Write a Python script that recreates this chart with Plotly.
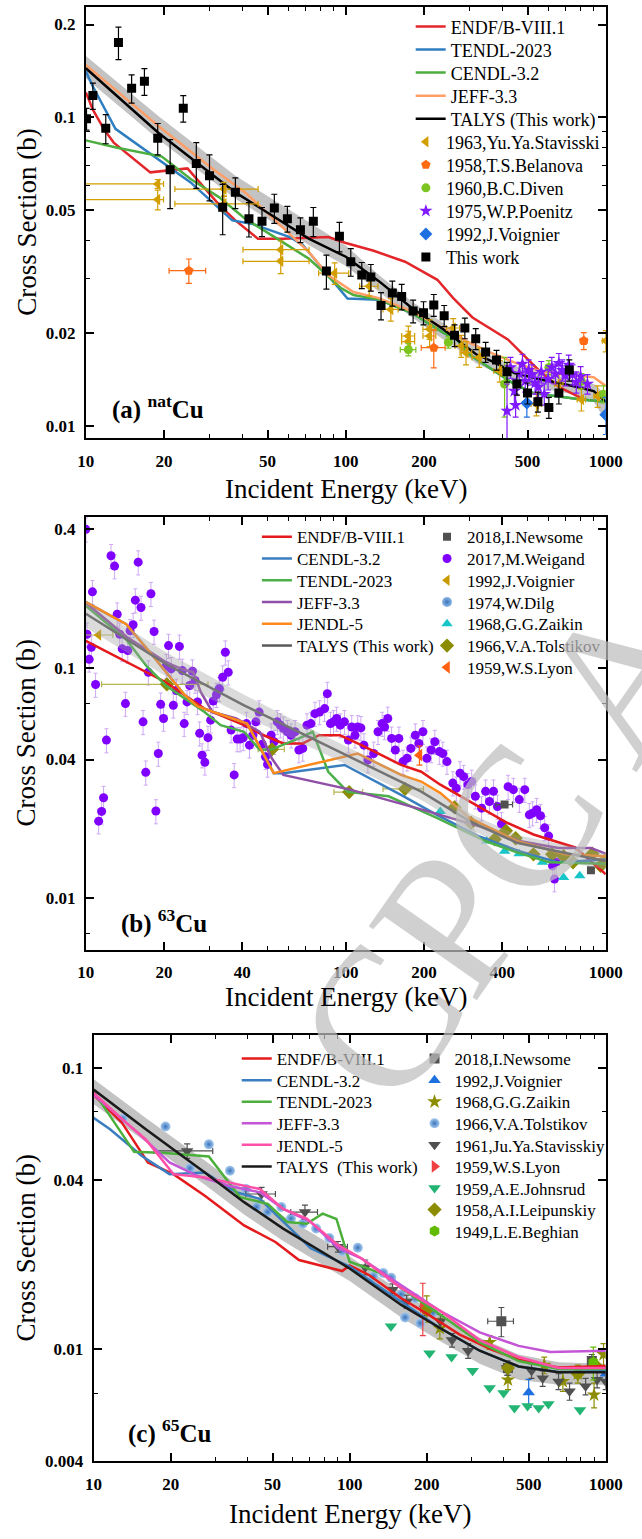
import plotly.graph_objects as go

FONT = "Liberation Serif"

# ===================== Panel (a) natCu =====================
a_endf_E = [10, 10.64, 11.75, 12.8, 17.7, 24.6, 32.7, 37.6, 45.9, 57.5, 85.6, 100, 128, 169, 225, 259, 307, 420, 556, 660, 795]
a_endf_S = [0.1206, 0.106, 0.0915, 0.0829, 0.0664, 0.0684, 0.0519, 0.0464, 0.0405, 0.0405, 0.0410, 0.0392, 0.0370, 0.0341, 0.0298, 0.0260, 0.0225, 0.0191, 0.0151, 0.0134, 0.0124]
a_tendl_E = [10, 10.64, 13.0, 17.5, 25.3, 36.6, 43.4, 60.9, 68.4, 83.3, 101.5, 134, 179, 237, 267, 298, 373, 444, 527, 660, 806, 1000]
a_tendl_S = [0.141, 0.126, 0.0919, 0.0769, 0.0616, 0.0464, 0.0453, 0.0410, 0.0386, 0.0316, 0.0259, 0.0257, 0.0233, 0.0201, 0.0191, 0.0171, 0.0151, 0.0137, 0.0128, 0.0125, 0.0122, 0.0120]
a_cendl_E = [10, 13.2, 19.6, 25.3, 32.6, 41.0, 54.4, 72, 95.9, 107, 134, 179, 237, 267, 298, 373, 444, 527, 660, 806, 1000]
a_cendl_S = [0.0843, 0.0798, 0.0747, 0.0632, 0.0551, 0.0470, 0.0405, 0.0349, 0.0280, 0.0266, 0.0257, 0.0233, 0.0201, 0.0191, 0.0171, 0.0151, 0.0137, 0.0128, 0.0125, 0.0122, 0.0120]
a_jeff_E = [10, 19.0, 30.9, 41.0, 54.4, 72, 85.7, 107, 134, 179, 237, 298, 373, 444, 556, 748, 898, 1000]
a_jeff_S = [0.148, 0.0938, 0.0680, 0.0572, 0.0458, 0.0367, 0.0308, 0.0272, 0.0260, 0.0236, 0.0208, 0.0187, 0.0171, 0.0161, 0.0151, 0.0146, 0.0144, 0.0135]
a_talys_E = [10, 19, 37.6, 72, 100, 134, 179, 237, 267, 317, 373, 444, 556, 748, 898, 1000]
a_talys_S = [0.1444, 0.0892, 0.0572, 0.0405, 0.0354, 0.0295, 0.0242, 0.0206, 0.0191, 0.0171, 0.0161, 0.0149, 0.0142, 0.0135, 0.0130, 0.0120]
a_band_hi = [0.158, 0.101, 0.0648, 0.0458, 0.0385, 0.0309, 0.0254, 0.0216, 0.0201, 0.0180, 0.0167, 0.0157, 0.0150, 0.0142, 0.0137, 0.0127]
a_band_lo = [0.134, 0.085, 0.0545, 0.0386, 0.0330, 0.0273, 0.0226, 0.0191, 0.0179, 0.0160, 0.0150, 0.0140, 0.0133, 0.0127, 0.0120, 0.0104]

a_this_E = [10.06, 10.64, 11.93, 13.35, 15.0, 16.8, 18.9, 21.1, 23.7, 26.6, 29.9, 33.6, 37.6, 42.4, 47.6, 53.1, 59.6, 66.9, 75.0, 84.2,
            94.5, 104.5, 115.2, 124.8, 136.6, 151, 164, 181.5, 199, 218, 239, 262, 287, 316, 345, 380, 417, 455, 500, 548, 604, 660, 724]
a_this_S = [0.0990, 0.1177, 0.0922, 0.175, 0.1243, 0.1309, 0.0856, 0.0677, 0.1071, 0.0709, 0.0647, 0.0512, 0.0572, 0.0470, 0.0461, 0.0509, 0.0470, 0.0433, 0.0461, 0.0318,
            0.0412, 0.0341, 0.0309, 0.0304, 0.0246, 0.0270, 0.0263, 0.0236, 0.0233, 0.0247, 0.0228, 0.0197, 0.0208, 0.0192, 0.0174, 0.0164, 0.0150, 0.0137, 0.0128, 0.0120, 0.0115, 0.0128, 0.0152]
a_this_err = [0.008, 0.0115, 0.010, 0.021, 0.013, 0.013, 0.010, 0.017, 0.0105, 0.012, 0.011, 0.0095, 0.0065, 0.006, 0.005, 0.0055, 0.0045, 0.004, 0.005, 0.004,
              0.0045, 0.0035, 0.003, 0.003, 0.0025, 0.0025, 0.0025, 0.002, 0.002, 0.002, 0.0018, 0.0016, 0.0016, 0.0015, 0.0013, 0.0012, 0.0011, 0.0011, 0.001, 0.0009, 0.0009, 0.001, 0.0012]

a_stav_E = [18.9, 18.9, 34, 34, 56.2, 56.2, 90.6, 123, 149, 174, 174, 210, 210, 259, 278, 290, 326, 391, 541, 660, 806, 930, 1000]
a_stav_S = [0.0609, 0.0542, 0.0586, 0.0525, 0.0373, 0.0342, 0.0313, 0.0284, 0.0239, 0.0196, 0.0188, 0.0196, 0.0206, 0.0208, 0.0182, 0.0173, 0.0167, 0.0151, 0.0118, 0.0137, 0.0122, 0.0125, 0.0189]
a_stav_xp = [1, 1, 12, 12, 16, 16, 12, 10, 10, 10, 10, 12, 12, 15, 15, 15, 20, 20, 25, 25, 30, 30, 30]
a_stav_xm = [10, 10, 12, 12, 16, 16, 12, 10, 10, 10, 10, 12, 12, 15, 15, 15, 20, 20, 25, 25, 30, 30, 30]
a_stav_ey = [0.002, 0.004, 0.003, 0.003, 0.0025, 0.003, 0.0025, 0.002, 0.002, 0.0015, 0.0015, 0.0015, 0.0015, 0.0015, 0.0015, 0.0015, 0.0012, 0.0012, 0.001, 0.001, 0.001, 0.001, 0.0015]
a_bel_E = [24.9, 218, 823]
a_bel_S = [0.0319, 0.01796, 0.0189]
a_bel_ex = [4, 23, 25]
a_bel_ey = [0.0029, 0.0025, 0.0012]
a_div_E = [174, 248, 408, 604, 806, 980]
a_div_S = [0.0177, 0.0187, 0.0137, 0.0155, 0.0140, 0.0127]
a_div_ex = [12, 0, 0, 0, 0, 0]
a_div_ey = [0.0008, 0.0008, 0.003, 0.0008, 0.0008, 0.0008]
a_poe_E = [417, 430, 445, 450, 465, 478, 490, 505, 520, 535, 550, 565, 580, 600, 620, 640, 660, 680, 700, 720, 745, 770, 800, 850]
a_poe_S = [0.0112, 0.0155, 0.0130, 0.0117, 0.0148, 0.0159, 0.0140, 0.0152, 0.0147, 0.0138, 0.0134, 0.0150, 0.0127, 0.0142, 0.0155, 0.0148, 0.0160, 0.0152, 0.0146, 0.0158, 0.0147, 0.0139, 0.0145, 0.0137]
a_poe_ey = [0.0025, 0.0012, 0.0012, 0.0010, 0.0012, 0.0012, 0.0011, 0.0012, 0.0011, 0.0011, 0.0010, 0.0012, 0.0010, 0.0011, 0.0012, 0.0011, 0.0012, 0.0012, 0.0011, 0.0012, 0.0011, 0.0011, 0.0011, 0.0010]
a_voi_E = [497, 1000]
a_voi_S = [0.0119, 0.0109]
a_voi_ey = [0.0012, 0.0015]

# ===================== Panel (b) 63Cu =====================
b_endf_E = [10, 20.3, 28.6, 40.6, 48.3, 57.5, 68.3, 78.9, 95, 115, 163, 195, 231, 299, 419, 527, 762, 1000]
b_endf_S = [0.131, 0.0867, 0.0666, 0.0564, 0.051, 0.047, 0.047, 0.051, 0.051, 0.0462, 0.0379, 0.0354, 0.0311, 0.0263, 0.0212, 0.0189, 0.0166, 0.0127]
b_cendl_E = [10, 14.3, 17.8, 23.9, 26.9, 41.7, 44.2, 52.8, 57.5, 98.9, 163, 224, 324, 465, 657, 1000]
b_cendl_S = [0.193, 0.155, 0.1156, 0.0767, 0.0681, 0.0573, 0.0508, 0.0349, 0.0349, 0.0379, 0.0281, 0.0230, 0.0186, 0.0160, 0.0143, 0.0147]
b_tendl_E = [10, 14.3, 17.1, 20.3, 28.6, 33, 40.6, 46.7, 51.9, 66, 74.6, 85.6, 101.6, 146, 224, 344, 455, 607, 1000]
b_tendl_S = [0.186, 0.133, 0.102, 0.0839, 0.0643, 0.0564, 0.0528, 0.044, 0.0443, 0.0494, 0.0528, 0.0354, 0.029, 0.0277, 0.0223, 0.0177, 0.0158, 0.0143, 0.0141]
b_jeff_E = [10, 14.3, 20.3, 23.3, 25.9, 27.7, 30.7, 37.9, 46.7, 51.9, 57.5, 104, 195, 327, 465, 657, 877, 1000]
b_jeff_S = [0.192, 0.137, 0.106, 0.099, 0.0958, 0.0785, 0.0643, 0.0603, 0.0528, 0.0405, 0.0343, 0.0296, 0.0243, 0.0205, 0.0177, 0.0165, 0.0165, 0.0156]
b_jendl_E = [10, 14.3, 17.8, 23.9, 26.9, 41.7, 44.2, 52.8, 111, 163, 195, 231, 299, 455, 700, 1000]
b_jendl_S = [0.193, 0.155, 0.1156, 0.0767, 0.0681, 0.0573, 0.0508, 0.0349, 0.0425, 0.0343, 0.0321, 0.0286, 0.0223, 0.0177, 0.0155, 0.0152]
b_talys_E = [10, 20.3, 40.6, 83.4, 163, 195, 299, 455, 700, 1000]
b_talys_S = [0.172, 0.104, 0.0688, 0.0462, 0.0321, 0.0290, 0.0216, 0.0174, 0.0157, 0.0145]
b_band_hi = [0.195, 0.117, 0.0765, 0.0505, 0.0350, 0.0316, 0.0234, 0.0188, 0.0170, 0.0157]
b_band_lo = [0.150, 0.092, 0.0620, 0.0422, 0.0295, 0.0267, 0.0199, 0.0160, 0.0144, 0.0133]

b_wei_E = [10, 10.1, 10.3, 10.5, 10.6, 10.9, 11.2, 11.5, 11.7, 12.0,
           12.5, 12.9, 13.2, 13.5, 13.8, 14.2, 14.5, 14.8, 15.2, 15.5,
           15.9, 16.3, 16.6, 17.0, 17.4, 17.8, 18.3, 18.6, 19.0, 19.4,
           19.9, 20.4, 20.8, 21.3, 21.7, 22.3, 22.9, 23.5, 23.9, 24.5,
           25.1, 25.7, 26.3, 26.9, 27.4, 28.0, 28.7, 29.5, 30.2, 30.9,
           31.8, 32.6, 33.6, 34.4, 35.3, 36.2, 37.2, 38.2, 39.2, 40.3,
           41.5, 42.6, 43.9, 45.1, 46.4, 47.7, 49.1, 50.0, 51.6, 53.0,
           54.5, 56.0, 57.5, 59.6, 61.6, 63.8, 66.0, 68.3, 70.9, 73.4,
           76.1, 79.3, 82.9, 84.9, 87.3, 89.7, 92.2, 95.3, 98.8, 102.3,
           105.4, 108.5, 111.2, 114.3, 117.4, 121.6, 128, 133, 138, 141,
           145, 150, 155, 160, 166, 172, 178, 185, 191, 198,
           205, 213, 220, 229, 236, 245, 258, 266, 275, 284,
           295, 305, 315, 333, 345, 357, 370, 383, 397, 421,
           441, 465, 488, 508, 523, 542, 561, 582, 603, 624,
           645, 635]
b_wei_S = [0.40, 0.140, 0.109, 0.123, 0.214, 0.0847, 0.0216, 0.0238, 0.0273, 0.0486,
           0.307, 0.277, 0.171, 0.140, 0.121, 0.070, 0.119, 0.145, 0.154, 0.197,
           0.288, 0.183, 0.0583, 0.0352, 0.0958, 0.210, 0.144, 0.0239, 0.0425, 0.0695,
           0.0603, 0.1023, 0.125, 0.099, 0.0688, 0.0798, 0.124, 0.0974, 0.0573, 0.0712,
           0.0839, 0.0968, 0.0882, 0.0712, 0.052, 0.0418, 0.0389, 0.0498, 0.0593, 0.0718,
           0.0765, 0.0811, 0.0911, 0.117, 0.0958, 0.0537, 0.0343, 0.0491, 0.0491, 0.0497,
           0.0573, 0.0462, 0.0510, 0.0583, 0.0643, 0.0466, 0.0411, 0.0381, 0.0510, 0.0478,
           0.0583, 0.0564, 0.0546, 0.0528, 0.0510, 0.0528, 0.0440, 0.0447, 0.0564, 0.0573,
           0.0633, 0.0643, 0.0666, 0.0773, 0.0573, 0.0583, 0.0603, 0.0564, 0.0583, 0.0486,
           0.0554, 0.0510, 0.0554, 0.0549, 0.0462, 0.0398, 0.0425, 0.0528, 0.0573, 0.0554,
           0.0603, 0.0494, 0.0440, 0.0494, 0.0392, 0.0405, 0.0447, 0.0510, 0.0470, 0.0528,
           0.0405, 0.0440, 0.0478, 0.0433, 0.0425, 0.0392, 0.0316, 0.0300, 0.0349, 0.0337,
           0.0311, 0.0321, 0.0277, 0.0246, 0.0291, 0.0263, 0.0291, 0.0250, 0.0210, 0.0305,
           0.0296, 0.0268, 0.0296, 0.0230, 0.0234, 0.0242, 0.0228, 0.0202, 0.0186, 0.0138,
           0.0143, 0.0121]
b_tol_E = [20.5, 52, 103, 169, 262, 303, 374, 413, 450, 527, 622, 688, 748, 888, 955]
b_tol_S = [0.0849, 0.0443, 0.0289, 0.0298, 0.0248, 0.0212, 0.0180, 0.0196, 0.0182, 0.0155, 0.0155, 0.0152, 0.0143, 0.0156, 0.0138]
b_tol_ex = [9, 6, 13, 30, 0, 0, 0, 0, 0, 0, 0, 0, 0, 0, 0]
b_zai_E = [231, 348, 408, 464, 571, 688, 794]
b_zai_S = [0.0238, 0.0177, 0.0160, 0.0156, 0.0143, 0.0123, 0.0125]
b_new_E = [408, 877]
b_new_S = [0.0255, 0.0132]
b_new_ex = [30, 20]
b_voi_E = [11.2, 980]
b_voi_S = [0.139, 0.0148]
b_voi_ex = [1.5, 0]
b_dil_E = [32.6]
b_dil_S = [0.0811]
b_lyo_E = [192]
b_lyo_S = [0.0418]
b_lyo_ey = [0.004]

# ===================== Panel (c) 65Cu =====================
c_endf_E = [10, 12.9, 16.3, 20.5, 27.2, 38.7, 51.3, 63.4, 93.5, 100, 119, 159, 203, 269, 358, 457, 654, 1000]
c_endf_S = [0.0805, 0.064, 0.0462, 0.042, 0.0352, 0.0276, 0.0241, 0.0208, 0.0190, 0.0199, 0.0184, 0.0152, 0.0133, 0.0113, 0.0100, 0.0092, 0.00863, 0.00873]
c_cendl_E = [10, 11.6, 15.4, 19.8, 27.2, 36.1, 44.6, 55.0, 70.4, 100, 159, 226, 322, 457, 654, 1000]
c_cendl_S = [0.0666, 0.0606, 0.0488, 0.042, 0.0426, 0.0362, 0.0343, 0.0284, 0.0229, 0.0197, 0.0148, 0.0119, 0.0099, 0.0087, 0.00831, 0.00838]
c_tendl_E = [10, 14.4, 19.1, 28.2, 37.3, 47.9, 57, 68, 78.4, 88.8, 100, 138, 159, 226, 322, 457, 654, 1000]
c_tendl_S = [0.0827, 0.0504, 0.0499, 0.0485, 0.0348, 0.0329, 0.0284, 0.028, 0.0304, 0.0291, 0.0205, 0.0184, 0.0165, 0.0133, 0.0106, 0.0091, 0.00853, 0.00853]
c_jeff_E = [10, 14.9, 19.8, 25.3, 33.6, 44.6, 55, 70.4, 90.2, 111, 159, 226, 322, 457, 607, 1000]
c_jeff_S = [0.0805, 0.0589, 0.0462, 0.0415, 0.0382, 0.0362, 0.0316, 0.0284, 0.0229, 0.0211, 0.0169, 0.0137, 0.0115, 0.0103, 0.0098, 0.0099]
c_jendl_E = [10, 13.4, 16, 20.5, 27.2, 38.7, 44.6, 55, 68, 90.2, 111, 159, 226, 322, 457, 654, 1000]
c_jendl_S = [0.0816, 0.064, 0.0558, 0.042, 0.0409, 0.0382, 0.0372, 0.0316, 0.0292, 0.0235, 0.0211, 0.0165, 0.0137, 0.0108, 0.0094, 0.0086, 0.0086]
c_talys_E = [10, 16, 27.2, 38.7, 55, 78.4, 100, 159, 226, 322, 457, 654, 1000]
c_talys_S = [0.0839, 0.0606, 0.0426, 0.0334, 0.0269, 0.0222, 0.0194, 0.0144, 0.0119, 0.0099, 0.0087, 0.0083, 0.0083]
c_band_hi = [0.0915, 0.0665, 0.0470, 0.0370, 0.0298, 0.0246, 0.0214, 0.0160, 0.0132, 0.0110, 0.0096, 0.0090, 0.0089]
c_band_lo = [0.0745, 0.0545, 0.0385, 0.0302, 0.0243, 0.0200, 0.0175, 0.0130, 0.0107, 0.0089, 0.0078, 0.0075, 0.0075]

c_new_E = [391, 415, 882]
c_new_S = [0.0126, 0.0086, 0.0091]
c_new_ex = [45, 0, 0]
c_new_ey = [0.0015, 0.0005, 0.0005]
c_voi_E = [500, 1000]
c_voi_S = [0.00703, 0.0082]
c_voi_ey = [0.0008, 0.0005]
c_zai_E = [200, 225, 352, 415, 575, 680, 778, 900, 980]
c_zai_S = [0.0140, 0.0119, 0.0106, 0.0078, 0.0088, 0.0077, 0.0082, 0.0069, 0.0096]
c_zai_ey = [0.0015, 0.001, 0.0006, 0.0006, 0.0006, 0.0006, 0.0006, 0.0007, 0.0009]
c_tol_E = [13, 19.1, 23.8, 28.2, 34.1, 39.4, 43.3, 47.8, 54.1, 59.0, 65.6, 74.0, 83.3, 93.4, 107.6, 123.8, 135.3, 145.2, 158.8, 164.6, 180.3, 188.8, 211.4]
c_tol_S = [0.066, 0.062, 0.0441, 0.0536, 0.0432, 0.0372, 0.0321, 0.0308, 0.0321, 0.0292, 0.0280, 0.0269, 0.0249, 0.0224, 0.0230, 0.0182, 0.0187, 0.0180, 0.0157, 0.0130, 0.0152, 0.0124, 0.0135]
c_sta_E = [23.2, 45.3, 66.9, 90, 115, 147, 167, 197, 226, 251, 290, 411, 513, 567, 654, 722, 834, 925, 1000]
c_sta_S = [0.0508, 0.0357, 0.0308, 0.0232, 0.0196, 0.0163, 0.0148, 0.0140, 0.0126, 0.0108, 0.0099, 0.0086, 0.0084, 0.0079, 0.0077, 0.0071, 0.0074, 0.0078, 0.0077]
c_sta_ex = [6, 6, 8, 8, 0, 0, 0, 0, 0, 0, 0, 0, 0, 0, 0, 0, 0, 0, 0]
c_sta_ey = [0.003, 0.002, 0.0018, 0.001, 0.0012, 0.0008, 0.0008, 0.0008, 0.0007, 0.0006, 0.0006, 0.0005, 0.0005, 0.0005, 0.0005, 0.0005, 0.0005, 0.0005, 0.0005]
c_lyo_E = [193]
c_lyo_S = [0.0142]
c_lyo_ey = [0.003]
c_joh_E = [145, 205, 250, 302, 352, 399, 440, 495, 547, 597, 793]
c_joh_S = [0.0121, 0.0097, 0.0094, 0.0084, 0.0073, 0.0070, 0.0062, 0.0063, 0.0062, 0.0064, 0.0061]
c_lei_E = [200, 415, 778, 910]
c_lei_S = [0.0138, 0.0086, 0.0082, 0.0088]
c_beg_E = [894]
c_beg_S = [0.0090]
c_beg_ey = [0.0012]

# ===================== figure =====================
W, H = 642, 1539


def px_x(p):
    return p / W


def px_y(p):
    return 1 - p / H


fig = go.Figure()
legends = {}
leg_count = [0]


def new_legend(xl, yc, size):
    leg_count[0] += 1
    name = "legend" if leg_count[0] == 1 else "legend%d" % leg_count[0]
    legends[name] = dict(x=px_x(xl), y=px_y(yc), xanchor="left", yanchor="middle",
                         bgcolor="rgba(0,0,0,0)", borderwidth=0,
                         font=dict(family=FONT, size=size, color="black"))
    return name


def add_line(x, y, name, color, xa, ya, leg, width=2.5):
    fig.add_trace(go.Scatter(x=x, y=y, mode="lines", name=name,
                             line=dict(color=color, width=width),
                             xaxis=xa, yaxis=ya, legend=leg))


def add_band(x, hi, lo, xa, ya, fill):
    fig.add_trace(go.Scatter(x=x, y=hi, mode="lines", line=dict(width=0), showlegend=False,
                             xaxis=xa, yaxis=ya, hoverinfo="skip"))
    fig.add_trace(go.Scatter(x=x, y=lo, mode="lines", line=dict(width=0), fill="tonexty",
                             fillcolor=fill, showlegend=False, xaxis=xa, yaxis=ya, hoverinfo="skip"))


def add_pts(x, y, name, color, symbol, size, xa, ya, leg,
            ey=None, ex=None, exm=None, ecolor=None, eypct=None, gradient=None):
    kw = {}
    ec = ecolor or color
    if ey is not None:
        kw["error_y"] = dict(type="data", array=ey, color=ec, thickness=1.2, width=3)
    if eypct is not None:
        kw["error_y"] = dict(type="percent", value=eypct, color=ec, thickness=1.0, width=2)
    if ex is not None:
        d = dict(type="data", array=ex, color=ec, thickness=1.2, width=3)
        if exm is not None:
            d["symmetric"] = False
            d["arrayminus"] = exm
        kw["error_x"] = d
    marker = dict(color=color, symbol=symbol, size=size, line=dict(width=0))
    if gradient is not None:
        marker["gradient"] = gradient
    fig.add_trace(go.Scatter(x=x, y=y, mode="markers", name=name, marker=marker,
                             xaxis=xa, yaxis=ya, legend=leg, **kw))


# legend rows (pixel centres)
A_ROW = lambda i: 27 + 23.2 * i
B_ROW = lambda i: 540.7 + 21.9 * i
C_ROW = lambda i: 1066 + 21.7 * i

# ---- panel (a)
add_band(a_talys_E, a_band_hi, a_band_lo, "x", "y", "rgba(175,175,175,0.75)")
add_line(a_endf_E, a_endf_S, "ENDF/B-VIII.1", "#E3262A", "x", "y", new_legend(419, A_ROW(0), 18))
add_line(a_tendl_E, a_tendl_S, "TENDL-2023", "#2E7EC1", "x", "y", new_legend(419, A_ROW(1), 18))
add_line(a_cendl_E, a_cendl_S, "CENDL-3.2", "#4BAE3F", "x", "y", new_legend(419, A_ROW(2), 18))
add_line(a_jeff_E, a_jeff_S, "JEFF-3.3", "#FF9E66", "x", "y", new_legend(419, A_ROW(3), 18))
add_line(a_talys_E, a_talys_S, "TALYS (This work)", "#000000", "x", "y", new_legend(419, A_ROW(4), 18))
add_pts(a_stav_E, a_stav_S, "1963,Yu.Ya.Stavisski", "#D39E00", "triangle-left", 10, "x", "y",
        new_legend(414, A_ROW(5), 18), ey=a_stav_ey, ex=a_stav_xp, exm=a_stav_xm)
add_pts(a_bel_E, a_bel_S, "1958,T.S.Belanova", "#FF6A13", "pentagon", 10, "x", "y",
        new_legend(414, A_ROW(6), 18), ey=a_bel_ey, ex=a_bel_ex)
add_pts(a_div_E, a_div_S, "1960,B.C.Diven", "#7CC520", "circle", 9, "x", "y",
        new_legend(414, A_ROW(7), 18), ey=a_div_ey, ex=a_div_ex)
add_pts(a_poe_E, a_poe_S, "1975,W.P.Poenitz", "#8019FF", "star", 10, "x", "y",
        new_legend(414, A_ROW(8), 18), ey=a_poe_ey)
add_pts(a_voi_E, a_voi_S, "1992,J.Voignier", "#1E6FE0", "diamond", 10, "x", "y",
        new_legend(414, A_ROW(9), 18), ey=a_voi_ey)
add_pts(a_this_E, a_this_S, "This work", "#000000", "square", 9, "x", "y",
        new_legend(414, A_ROW(10), 18), ey=a_this_err)

# ---- panel (b)
add_pts(b_dil_E, b_dil_S, "1974,W.Dilg", "#8DB8E8", "circle", 10, "x2", "y2",
        new_legend(436, B_ROW(3), 17), gradient=dict(type="radial", color="#3B74BA"))
add_pts(b_wei_E, b_wei_S, "2017,M.Weigand", "#7F00FF", "circle", 9, "x2", "y2",
        new_legend(436, B_ROW(1), 17), eypct=12, ecolor="#CDA8F5")
add_pts(b_new_E, b_new_S, "2018,I.Newsome", "#505050", "square", 8, "x2", "y2",
        new_legend(436, B_ROW(0), 17), ex=b_new_ex)
add_pts(b_voi_E, b_voi_S, "1992,J.Voignier", "#C89A00", "triangle-left", 10, "x2", "y2",
        new_legend(436, B_ROW(2), 17), ex=b_voi_ex, ecolor="#BDBD60")
add_pts(b_zai_E, b_zai_S, "1968,G.G.Zaikin", "#18C6C9", "triangle-up", 10, "x2", "y2",
        new_legend(436, B_ROW(4), 17))
add_pts(b_tol_E, b_tol_S, "1966,V.A.Tolstikov", "#8C8C00", "diamond", 11, "x2", "y2",
        new_legend(436, B_ROW(5), 17), ex=b_tol_ex, ecolor="#B5B552")
add_pts(b_lyo_E, b_lyo_S, "1959,W.S.Lyon", "#FF6010", "triangle-left", 11, "x2", "y2",
        new_legend(436, B_ROW(6), 17), ey=b_lyo_ey)
add_line(b_endf_E, b_endf_S, "ENDF/B-VIII.1", "#E41A1C", "x2", "y2", new_legend(259, B_ROW(0), 17))
add_line(b_cendl_E, b_cendl_S, "CENDL-3.2", "#3A7EC0", "x2", "y2", new_legend(259, B_ROW(1), 17))
add_line(b_tendl_E, b_tendl_S, "TENDL-2023", "#4DAF4A", "x2", "y2", new_legend(259, B_ROW(2), 17))
add_line(b_jeff_E, b_jeff_S, "JEFF-3.3", "#9050A8", "x2", "y2", new_legend(259, B_ROW(3), 17))
add_line(b_jendl_E, b_jendl_S, "JENDL-5", "#FF8A1A", "x2", "y2", new_legend(259, B_ROW(4), 17))
add_line(b_talys_E, b_talys_S, "TALYS (This work)", "#5A5A5A", "x2", "y2", new_legend(259, B_ROW(5), 17))
add_band(b_talys_E, b_band_hi, b_band_lo, "x2", "y2", "rgba(160,160,160,0.38)")

# ---- panel (c)
add_band(c_talys_E, c_band_hi, c_band_lo, "x3", "y3", "rgba(175,175,175,0.75)")
add_pts(c_new_E, c_new_S, "2018,I.Newsome", "#505050", "square", 10, "x3", "y3",
        new_legend(423, C_ROW(0), 17), ey=c_new_ey, ex=c_new_ex)
add_pts(c_voi_E, c_voi_S, "1992,J.Voignier", "#1E6FE0", "triangle-up", 11, "x3", "y3",
        new_legend(423, C_ROW(1), 17), ey=c_voi_ey)
add_pts(c_zai_E, c_zai_S, "1968,G.G.Zaikin", "#8C8C00", "star", 11, "x3", "y3",
        new_legend(423, C_ROW(2), 17), ey=c_zai_ey)
add_pts(c_tol_E, c_tol_S, "1966,V.A.Tolstikov", "#A6CBF0", "circle", 10, "x3", "y3",
        new_legend(423, C_ROW(3), 17), gradient=dict(type="radial", color="#3A73BA"))
add_pts(c_sta_E, c_sta_S, "1961,Ju.Ya.Stavisskiy", "#505050", "triangle-down", 11, "x3", "y3",
        new_legend(423, C_ROW(4), 17), ey=c_sta_ey, ex=c_sta_ex)
add_pts(c_lyo_E, c_lyo_S, "1959,W.S.Lyon", "#EE4040", "triangle-right", 11, "x3", "y3",
        new_legend(423, C_ROW(5), 17), ey=c_lyo_ey)
add_pts(c_joh_E, c_joh_S, "1959,A.E.Johnsrud", "#22B573", "triangle-down", 11, "x3", "y3",
        new_legend(423, C_ROW(6), 17))
add_pts(c_lei_E, c_lei_S, "1958,A.I.Leipunskiy", "#8C8C00", "diamond", 11, "x3", "y3",
        new_legend(423, C_ROW(7), 17))
add_pts(c_beg_E, c_beg_S, "1949,L.E.Beghian", "#62BB00", "hexagon", 11, "x3", "y3",
        new_legend(423, C_ROW(8), 17), ey=c_beg_ey)
add_line(c_endf_E, c_endf_S, "ENDF/B-VIII.1", "#E41A1C", "x3", "y3", new_legend(238, C_ROW(0), 17))
add_line(c_cendl_E, c_cendl_S, "CENDL-3.2", "#3A7EC0", "x3", "y3", new_legend(238, C_ROW(1), 17))
add_line(c_tendl_E, c_tendl_S, "TENDL-2023", "#4CAF3C", "x3", "y3", new_legend(238, C_ROW(2), 17))
add_line(c_jeff_E, c_jeff_S, "JEFF-3.3", "#C455D6", "x3", "y3", new_legend(238, C_ROW(3), 17))
add_line(c_jendl_E, c_jendl_S, "JENDL-5", "#FF4FA8", "x3", "y3", new_legend(238, C_ROW(4), 17))
add_line(c_talys_E, c_talys_S, "TALYS  (This work)", "#1A1A1A", "x3", "y3", new_legend(238, C_ROW(5), 17))

# ===================== axes =====================
xt_ac = [10, 20, 50, 100, 200, 500, 1000]
xm_ac = [30, 40, 60, 70, 80, 90, 300, 400, 600, 700, 800, 900]
xt_b = [10, 20, 40, 100, 200, 400, 1000]
xm_b = [30, 50, 60, 70, 80, 90, 300, 500, 600, 700, 800, 900]


def bold(vals):
    return ["<b>%s</b>" % v for v in vals]


def xaxis(dom, anchor, tv, mv):
    return dict(type="log", range=[1, 3], domain=dom, anchor=anchor,
                tickmode="array", tickvals=tv, ticktext=bold(tv),
                ticks="inside", ticklen=8, tickwidth=1.5, tickcolor="black",
                minor=dict(tickmode="array", tickvals=mv, ticks="inside", ticklen=4,
                           tickwidth=1.2, tickcolor="black", showgrid=False),
                showline=True, linewidth=2, linecolor="black", mirror="ticks",
                showgrid=False, zeroline=False, ticklabelstandoff=6,
                tickfont=dict(family=FONT, size=17, color="black"))


def yaxis(dom, anchor, rng, tv, tt, mv):
    return dict(type="log", range=rng, domain=dom, anchor=anchor,
                tickmode="array", tickvals=tv, ticktext=bold(tt),
                ticks="inside", ticklen=8, tickwidth=1.5, tickcolor="black",
                minor=dict(tickmode="array", tickvals=mv, ticks="inside", ticklen=4,
                           tickwidth=1.2, tickcolor="black", showgrid=False),
                showline=True, linewidth=2, linecolor="black", mirror="ticks",
                showgrid=False, zeroline=False, ticklabelstandoff=5,
                tickfont=dict(family=FONT, size=17, color="black"))


dom_ab = [px_x(81), px_x(622)]
dom_c = [px_x(89), px_x(622)]

fig.update_layout(
    width=W, height=H, margin=dict(l=0, r=0, t=0, b=0),
    paper_bgcolor="white", plot_bgcolor="white",
    font=dict(family=FONT, color="black"),
    xaxis=xaxis(dom_ab, "y", xt_ac, xm_ac),
    yaxis=yaxis([px_y(441), px_y(7)], "x", [-2.0386, -0.6421],
                [0.01, 0.02, 0.05, 0.1, 0.2], ["0.01", "0.02", "0.05", "0.1", "0.2"],
                [0.03, 0.04, 0.06, 0.07, 0.08, 0.09]),
    xaxis2=xaxis(dom_ab, "y2", xt_b, xm_b),
    yaxis2=yaxis([px_y(956), px_y(520)], "x2", [-2.2244, -0.3427],
                 [0.01, 0.04, 0.1, 0.4], ["0.01", "0.04", "0.1", "0.4"], [0.007, 0.07]),
    xaxis3=xaxis(dom_c, "y3", xt_ac, xm_ac),
    yaxis3=yaxis([px_y(1471), px_y(1042)], "x3", [-2.3979, -0.883],
                 [0.004, 0.01, 0.04, 0.1], ["0.004", "0.01", "0.04", "0.1"], [0.007, 0.07]),
    showlegend=True,
    **legends,
)

ann = []
# journal watermark (light grey, runs off the right edge as in the reference)
ann.append(dict(text="CPC A", x=px_x(514), y=px_y(852), xref="paper", yref="paper",
                showarrow=False, textangle=-55,
                font=dict(family=FONT, size=200, color="rgba(190,190,190,0.72)"),
                xanchor="center", yanchor="middle"))
# axis titles
for yc in [224, 738, 1256.5]:
    ann.append(dict(text="Cross Section (b)", x=px_x(19), y=px_y(yc), xref="paper", yref="paper",
                    textangle=-90, showarrow=False, font=dict(family=FONT, size=27, color="black"),
                    xanchor="center", yanchor="middle"))
for xc, yc in [(351.5, 492), (351.5, 1004), (355.5, 1524)]:
    ann.append(dict(text="Incident Energy (keV)", x=px_x(xc), y=px_y(yc), xref="paper", yref="paper",
                    showarrow=False, font=dict(family=FONT, size=27, color="black"),
                    xanchor="center", yanchor="middle"))
# panel labels
for txt, xl, yc in [("<b>(a) <sup>nat</sup>Cu</b>", 106, 410),
                    ("<b>(b) <sup>63</sup>Cu</b>", 116, 928),
                    ("<b>(c) <sup>65</sup>Cu</b>", 123, 1441)]:
    ann.append(dict(text=txt, x=px_x(xl), y=px_y(yc), xref="paper", yref="paper", showarrow=False,
                    font=dict(family=FONT, size=25, color="black"), xanchor="left", yanchor="middle"))
fig.update_layout(annotations=ann)

fig.write_html("out.html")
